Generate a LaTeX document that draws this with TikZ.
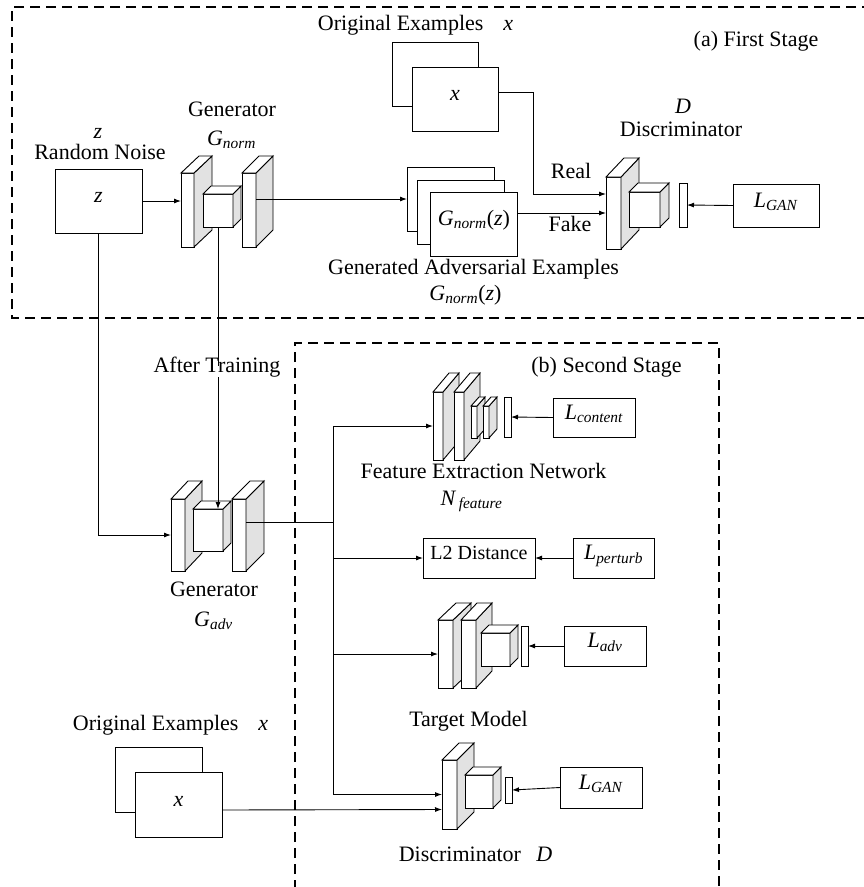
\documentclass[tikz,border=0pt]{standalone}
\usepackage{fontspec}
\setmainfont{Liberation Serif}
\usepackage{tikz}
\usetikzlibrary{arrows.meta,positioning}

\definecolor{sidegray}{HTML}{E2E2E2}

\newcommand{\subvar}[2]{\textit{#1}\textsubscript{\textit{#2}}}
% name, x, y, width, height, depth x, depth y
\newcommand{\layer}[7]{%
    \node[face, minimum width=#4pt, minimum height=#5pt] (#1) at (#2,#3) {};
    \draw[side] (#1.north east) -- ++(#6,-#7) -- ++(0,#5) -- (#1.south east) -- cycle;
    \draw[face] (#1.north west) -- ++(#6,-#7) -- ++(#4,0) -- (#1.north east) -- cycle;
}

\begin{document}
\begin{tikzpicture}[
    x=1pt, y=-1pt,
    font=\fontsize{22}{26}\selectfont,
    line width=0.9pt,
    lbl/.style={inner sep=0pt, text height=0.45em, text depth=0.25em},
    box/.style={rectangle, draw, fill=white, inner sep=0pt, outer sep=0pt, text height=0.55em, text depth=0.25em},
    face/.style={draw, fill=white, inner sep=0pt, outer sep=0pt},
    side/.style={draw, fill=sidegray},
    arrow/.style={-{Latex[length=7pt,width=5pt]}},
    stage/.style={dash pattern=on 10pt off 6pt, line width=1.3pt}
]
    \useasboundingbox (0,0) rectangle (864,887);

    % stage frames
    \draw[stage] (872,7) -- (12,7) -- (12,318) -- (872,318);
    \draw[stage] (295,890) -- (295,343) -- (719,343) -- (719,890);
    \node[lbl] (first) at (756,45) {(a) First Stage};
    \node[lbl] (second) at (606.5,371) {(b) Second Stage};

    % first stage
    \node[box, minimum width=87pt, minimum height=64pt] (zbox) at (98.5,201) {\textit{z}};
    \node[lbl] (zlbl) at (98,137) {\textit{z}};
    \node[lbl] (noise) at (100,158) {Random Noise};

    \layer{gnL}{187.5}{210}{13}{74}{18}{17}
    \layer{gnR}{249}{210}{14}{74}{17}{17}
    \layer{gnC}{218}{210.5}{30}{33}{8}{8}
    \node[lbl] (gntitle) at (232,115) {Generator};
    \node[lbl] (gnname) at (231.5,144) {\subvar{G}{norm}};

    \node[box, minimum width=86pt, minimum height=64pt] (oxb) at (435,74) {};
    \node[box, minimum width=86pt, minimum height=64pt] (oxf) at (455,99) {\textit{x}};
    \node[lbl] (oxlbl) at (415.5,29) {Original Examples\hspace{0.9em}\textit{x}};

    \node[box, minimum width=87pt, minimum height=64pt] (adv1) at (450.5,199) {};
    \node[box, minimum width=87pt, minimum height=64pt] (adv2) at (460.5,212.5) {};
    \node[box, minimum width=87pt, minimum height=64pt] (adv3) at (474,224) {\subvar{G}{norm}(\textit{z})};
    \node[lbl] (advlbl) at (473.5,273) {Generated Adversarial Examples};
    \node[lbl] (advname) at (465.5,299) {\subvar{G}{norm}(\textit{z})};

    \layer{dA}{613.5}{213}{15}{72}{18}{19}
    \layer{dC}{644.5}{209.5}{31}{35}{9}{9}
    \node[face, minimum width=8pt, minimum height=44pt] (dBar) at (683,205) {};
    \node[lbl] (dname) at (683,112) {\textit{D}};
    \node[lbl] (dtitle) at (681,135) {Discriminator};
    \node[box, minimum width=86pt, minimum height=43pt] (lganA) at (776,205.5) {\subvar{L}{GAN}};

    \draw[arrow] (zbox.east) -- (zbox.east -| gnL.west);
    \draw[arrow] (gnR.east |- adv1.west) -- (adv1.west);
    \draw[arrow] ([yshift=7pt]oxf.east) -- ++(35,0) |- ([yshift=19pt]dA.west);
    \draw[arrow] ([yshift=11pt]adv3.east) -- (dA.west);
    \draw[arrow] (lganA.west) -- (dBar.east);
    \node[lbl] (real) at (571,177) {Real};
    \node[lbl] (fake) at (570,230) {Fake};

    % second stage
    \layer{gaL}{178}{535}{14}{72}{17}{18}
    \layer{gaR}{239}{535}{14}{72}{18}{18}
    \layer{gaC}{208}{530}{30}{42}{8}{8}
    \node[lbl] (gatitle) at (214,595) {Generator};
    \node[lbl] (ganame) at (213.5,625) {\subvar{G}{adv}};

    \draw[arrow] (zbox.south) |- (gaL.west);
    \draw[arrow] (gnC.south) -- (gnC.south |- gaC.north);
    \node[lbl, fill=white, inner sep=2pt] (train) at (217,371) {After Training};

    \layer{fe1}{438}{426}{10}{68}{16}{19}
    \layer{fe2}{459}{426}{10}{68}{16}{19}
    \layer{fe3}{474}{422}{6}{32}{8}{9}
    \layer{fe4}{486}{422}{6}{32}{8}{9}
    \node[face, minimum width=7pt, minimum height=40pt] (feBar) at (507.5,417) {};
    \node[box, minimum width=82pt, minimum height=39pt] (lcont) at (594,417.5) {\subvar{L}{content}};
    \node[lbl] (fetitle) at (483.5,477) {Feature Extraction Network};
    \node[lbl] (fename) at (471.5,504) {\subvar{N}{\,feature}};

    \node[box, minimum width=112pt, minimum height=40pt, font=\fontsize{20}{24}\selectfont] (l2) at (479,558) {L2 Distance};
    \node[box, minimum width=81pt, minimum height=40pt] (lpert) at (613.5,558) {\subvar{L}{perturb}};

    \layer{tm1}{445.5}{654}{15}{68}{18}{17}
    \layer{tm2}{468.5}{654}{15}{68}{16}{17}
    \layer{tmC}{495.5}{649.5}{29}{33}{8}{8}
    \node[face, minimum width=7pt, minimum height=40pt] (tmBar) at (524.5,646) {};
    \node[box, minimum width=82pt, minimum height=40pt] (ladv) at (605,646) {\subvar{L}{adv}};
    \node[lbl] (tmtitle) at (468.5,725) {Target Model};

    \layer{db}{449.5}{794.5}{15}{69}{17}{17}
    \layer{dbC}{479}{791.5}{28}{33}{8}{8}
    \node[face, minimum width=7pt, minimum height=26pt] (dbBar) at (508.5,790) {};
    \node[box, minimum width=82pt, minimum height=41pt] (lganB) at (601,787.5) {\subvar{L}{GAN}};
    \node[lbl] (dbtitle) at (475.5,860) {Discriminator\hspace{0.7em}\textit{D}};

    \node[box, minimum width=87pt, minimum height=65pt] (oxb2) at (158.5,779.5) {};
    \node[box, minimum width=87pt, minimum height=65pt] (oxf2) at (178.5,804.5) {\textit{x}};
    \node[lbl] (ox2lbl) at (170.5,729) {Original Examples\hspace{0.9em}\textit{x}};

    \draw ([yshift=13pt]gaR.east) -- ++(87,0) coordinate (trunk);
    \draw[arrow] (trunk) |- (fe1.west);
    \draw[arrow] (trunk) |- (l2.west);
    \draw[arrow] (trunk) |- (tm1.west);
    \draw[arrow] (trunk) |- (db.west);
    \draw[arrow] ([yshift=-5.5pt]oxf2.east) -- ([yshift=-15pt]db.west);
    \draw[arrow] (lcont.west) -- (feBar.east);
    \draw[arrow] (lpert.west) -- (l2.east);
    \draw[arrow] (ladv.west) -- (tmBar.east);
    \draw[arrow] (lganB.west) -- (dbBar.east);
\end{tikzpicture}
\end{document}
